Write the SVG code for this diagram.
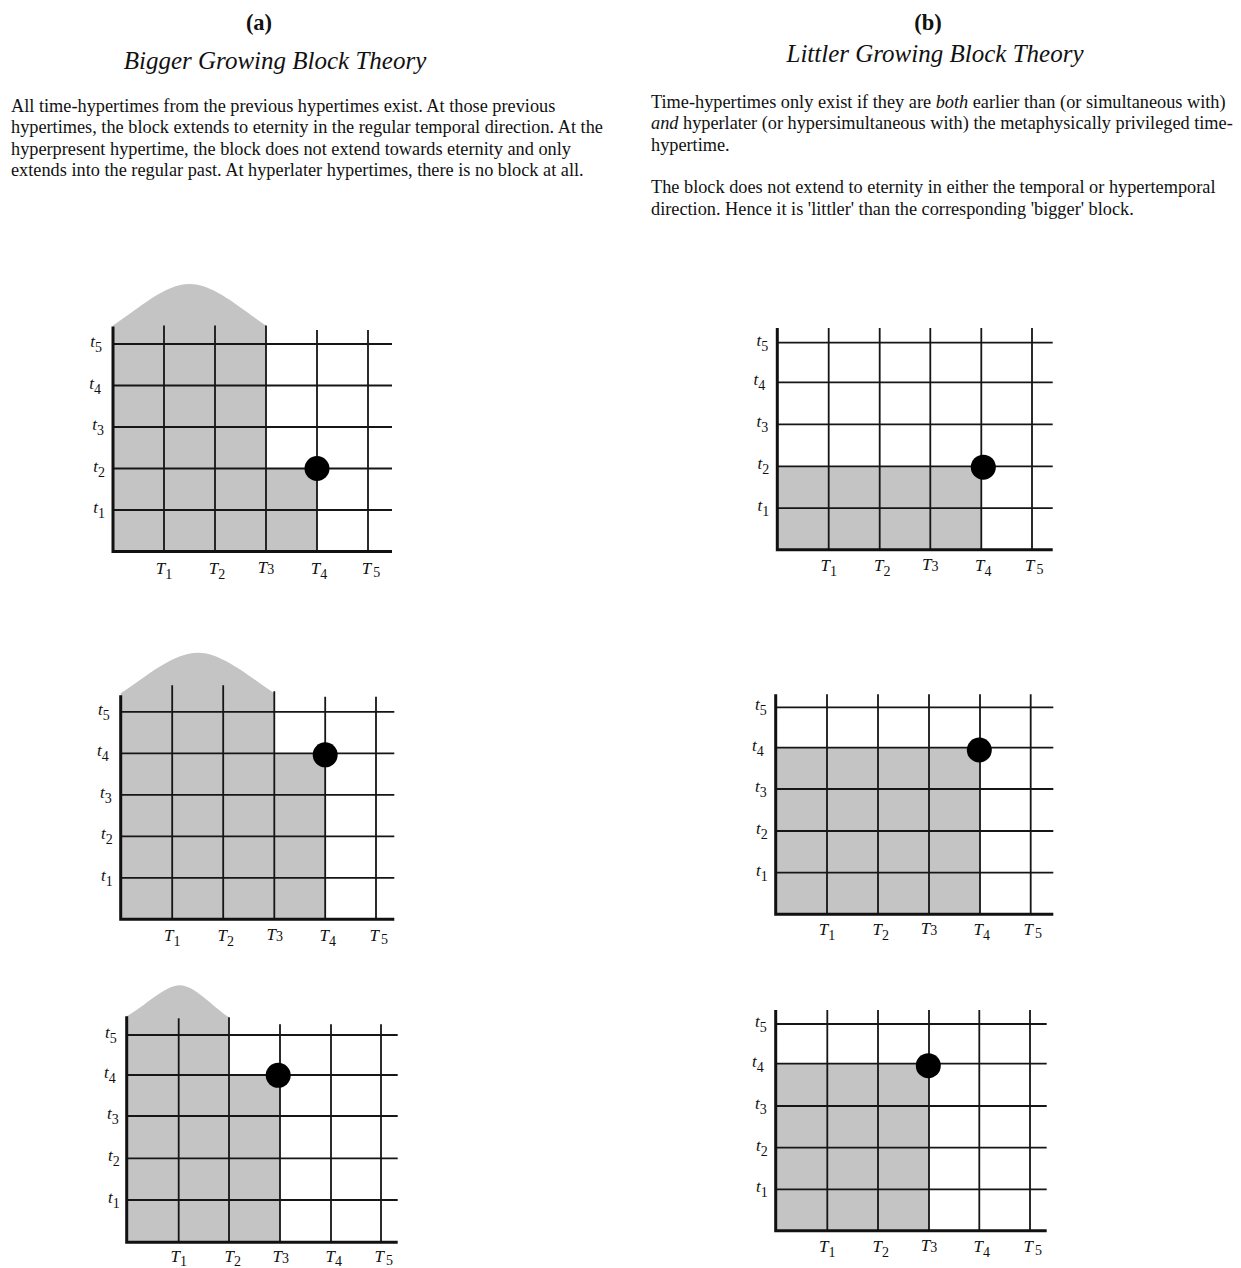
<svg xmlns="http://www.w3.org/2000/svg" width="1241" height="1268" viewBox="0 0 1241 1268">
<style>
  .serif{font-family:"Liberation Serif","Times New Roman",serif;fill:#111}
  .hd{font-size:22.5px;font-weight:bold;text-anchor:middle}
  .ttl{font-size:25px;font-style:italic;text-anchor:middle}
  .body{font-size:18.3px}
  .block{fill:#c4c4c4;stroke:none}
  .grid{fill:none;stroke:#161616;stroke-width:1.8}
  .axis{fill:none;stroke:#111;stroke-width:3}
  .dot{fill:#000}
  .lab{font-family:"Liberation Serif","Times New Roman",serif;font-style:italic;font-size:17px;fill:#111}
  .yl{text-anchor:end}
  .xl{text-anchor:middle}
  .sub{font-size:14px;font-style:normal}
</style>
<rect width="1241" height="1268" fill="#fff"/>

<g id="header-a" class="serif">
  <text class="hd" x="259" y="30">(a)</text>
  <text class="ttl" x="275" y="69">Bigger Growing Block Theory</text>
  <text class="body" x="11" y="111.5">All time-hypertimes from the previous hypertimes exist. At those previous</text>
  <text class="body" x="11" y="133">hypertimes, the block extends to eternity in the regular temporal direction. At the</text>
  <text class="body" x="11" y="154.5">hyperpresent hypertime, the block does not extend towards eternity and only</text>
  <text class="body" x="11" y="176">extends into the regular past. At hyperlater hypertimes, there is no block at all.</text>
</g>

<g id="header-b" class="serif">
  <text class="hd" x="928" y="30">(b)</text>
  <text class="ttl" x="935" y="62">Littler Growing Block Theory</text>
  <text class="body" x="651" y="107.5">Time-hypertimes only exist if they are <tspan font-style="italic">both</tspan> earlier than (or simultaneous with)</text>
  <text class="body" x="651" y="129"><tspan font-style="italic">and</tspan> hyperlater (or hypersimultaneous with) the metaphysically privileged time-</text>
  <text class="body" x="651" y="150.5">hypertime.</text>
  <text class="body" x="651" y="193">The block does not extend to eternity in either the temporal or hypertemporal</text>
  <text class="body" x="651" y="214.5">direction. Hence it is 'littler' than the corresponding 'bigger' block.</text>
</g>

<!-- (a) grid 1 -->
<g id="grid-a1" transform="translate(113,551.5)">
  <path class="block" d="M0,0 V-226 C27,-244 52,-267.5 76.5,-267.5 C101,-267.5 126,-244 153,-226 V-83 H204 V0 Z"/>
  <path class="grid" d="M0,-41.5 H279 M0,-83 H279 M0,-124.5 H279 M0,-166 H279 M0,-207.5 H279 M51,0 V-226 M102,0 V-226 M153,0 V-226 M204,0 V-221.5 M255,0 V-221.5"/>
  <path class="axis" d="M0,-225 V0 H279"/>
  <circle class="dot" cx="204" cy="-83" r="12.5"/>
  <g class="lab yl">
    <text x="-8" y="-38.5">t<tspan class="sub" dy="5">1</tspan></text>
    <text x="-8" y="-80">t<tspan class="sub" dy="5">2</tspan></text>
    <text x="-9" y="-121.5">t<tspan class="sub" dy="5">3</tspan></text>
    <text x="-12" y="-163">t<tspan class="sub" dy="5">4</tspan></text>
    <text x="-11" y="-204.5">t<tspan class="sub" dy="5">5</tspan></text>
  </g>
  <g class="lab xl">
    <text x="51" y="22">T<tspan class="sub" dy="5">1</tspan></text>
    <text x="104" y="22">T<tspan class="sub" dy="5">2</tspan></text>
    <text x="153" y="21">T<tspan class="sub" dy="1">3</tspan></text>
    <text x="206" y="22">T<tspan class="sub" dy="5">4</tspan></text>
    <text x="258" y="22">T<tspan class="sub" dx="2" dy="3">5</tspan></text>
  </g>
</g>

<!-- (a) grid 2 -->
<g id="grid-a2" transform="translate(120.7,919.3)">
  <path class="block" d="M0,0 V-226 C27,-244 53,-266.6 77.3,-266.6 C101,-266.6 127,-244 153.6,-226 V-166 H204.5 V0 Z"/>
  <path class="grid" d="M0,-41.5 H273.6 M0,-83 H273.6 M0,-124.5 H273.6 M0,-166 H273.6 M0,-207.5 H273.6 M51.5,0 V-234 M102.5,0 V-234 M153.6,0 V-228 M204.5,0 V-222.6 M255.3,0 V-222.6"/>
  <path class="axis" d="M0,-224 V0 H273.6"/>
  <circle class="dot" cx="204.5" cy="-164.5" r="12.5"/>
  <g class="lab yl">
    <text x="-8" y="-38.5">t<tspan class="sub" dy="5">1</tspan></text>
    <text x="-8" y="-80">t<tspan class="sub" dy="5">2</tspan></text>
    <text x="-9" y="-121.5">t<tspan class="sub" dy="5">3</tspan></text>
    <text x="-12" y="-163">t<tspan class="sub" dy="5">4</tspan></text>
    <text x="-11" y="-204.5">t<tspan class="sub" dy="5">5</tspan></text>
  </g>
  <g class="lab xl">
    <text x="51.5" y="22">T<tspan class="sub" dy="5">1</tspan></text>
    <text x="105" y="22">T<tspan class="sub" dy="5">2</tspan></text>
    <text x="154" y="21">T<tspan class="sub" dy="1">3</tspan></text>
    <text x="207" y="22">T<tspan class="sub" dy="5">4</tspan></text>
    <text x="258" y="22">T<tspan class="sub" dx="2" dy="3">5</tspan></text>
  </g>
</g>

<!-- (a) grid 3 -->
<g id="grid-a3" transform="translate(126.7,1242.3)">
  <path class="block" d="M0,0 V-226 C18,-236 38,-257 53,-257 C68,-257 84,-237 102.3,-225 V-167 H153.3 V0 Z"/>
  <path class="grid" d="M0,-42.3 H271 M0,-84 H271 M0,-126.3 H271 M0,-167.3 H271 M0,-207.3 H271 M52,0 V-224 M102.3,0 V-225 M153.3,0 V-218 M204.3,0 V-218 M254.3,0 V-218"/>
  <path class="axis" d="M0,-226 V0 H271"/>
  <circle class="dot" cx="151.5" cy="-167" r="12.5"/>
  <g class="lab yl">
    <text x="-7" y="-39">t<tspan class="sub" dy="5">1</tspan></text>
    <text x="-7" y="-81">t<tspan class="sub" dy="5">2</tspan></text>
    <text x="-8" y="-123">t<tspan class="sub" dy="5">3</tspan></text>
    <text x="-11" y="-164">t<tspan class="sub" dy="5">4</tspan></text>
    <text x="-10" y="-204">t<tspan class="sub" dy="5">5</tspan></text>
  </g>
  <g class="lab xl">
    <text x="52" y="20">T<tspan class="sub" dy="4">1</tspan></text>
    <text x="106" y="20">T<tspan class="sub" dy="4">2</tspan></text>
    <text x="154" y="20">T<tspan class="sub" dy="1">3</tspan></text>
    <text x="207" y="20">T<tspan class="sub" dy="4">4</tspan></text>
    <text x="257" y="20">T<tspan class="sub" dx="2" dy="3">5</tspan></text>
  </g>
</g>

<!-- (b) grid 1 -->
<g id="grid-b1" transform="translate(777.3,549.7)">
  <rect class="block" x="0" y="-83" width="204" height="83"/>
  <path class="grid" d="M0,-41.5 H275.4 M0,-83.4 H275.4 M0,-125.4 H275.4 M0,-167.4 H275.4 M0,-207 H275.4 M51.4,0 V-221.7 M102.4,0 V-221.7 M153,0 V-221.7 M204,0 V-221.7 M254.7,0 V-221.7"/>
  <path class="axis" d="M0,-221.7 V0 H275.4"/>
  <circle class="dot" cx="206" cy="-82.5" r="12.5"/>
  <g class="lab yl">
    <text x="-8" y="-38.5">t<tspan class="sub" dy="5">1</tspan></text>
    <text x="-8" y="-80.5">t<tspan class="sub" dy="5">2</tspan></text>
    <text x="-9" y="-122.5">t<tspan class="sub" dy="5">3</tspan></text>
    <text x="-12" y="-164.5">t<tspan class="sub" dy="5">4</tspan></text>
    <text x="-9" y="-204">t<tspan class="sub" dy="5">5</tspan></text>
  </g>
  <g class="lab xl">
    <text x="51.4" y="21">T<tspan class="sub" dy="5">1</tspan></text>
    <text x="105" y="21">T<tspan class="sub" dy="5">2</tspan></text>
    <text x="153" y="20">T<tspan class="sub" dy="1">3</tspan></text>
    <text x="206" y="21">T<tspan class="sub" dy="5">4</tspan></text>
    <text x="257" y="21">T<tspan class="sub" dx="2" dy="3">5</tspan></text>
  </g>
</g>

<!-- (b) grid 2 -->
<g id="grid-b2" transform="translate(775.7,914.3)">
  <rect class="block" x="0" y="-166.6" width="204.3" height="166.6"/>
  <path class="grid" d="M0,-41.6 H277.6 M0,-83.3 H277.6 M0,-125.3 H277.6 M0,-166.6 H277.6 M0,-207 H277.6 M51.3,0 V-220 M102.3,0 V-220 M153.3,0 V-220 M204.3,0 V-220 M255,0 V-220"/>
  <path class="axis" d="M0,-220 V0 H277.6"/>
  <circle class="dot" cx="203.6" cy="-164.3" r="12.5"/>
  <g class="lab yl">
    <text x="-8" y="-38.5">t<tspan class="sub" dy="5">1</tspan></text>
    <text x="-8" y="-80">t<tspan class="sub" dy="5">2</tspan></text>
    <text x="-9" y="-122">t<tspan class="sub" dy="5">3</tspan></text>
    <text x="-12" y="-163.5">t<tspan class="sub" dy="5">4</tspan></text>
    <text x="-9" y="-204">t<tspan class="sub" dy="5">5</tspan></text>
  </g>
  <g class="lab xl">
    <text x="51.3" y="21">T<tspan class="sub" dy="5">1</tspan></text>
    <text x="105" y="21">T<tspan class="sub" dy="5">2</tspan></text>
    <text x="153.3" y="20">T<tspan class="sub" dy="1">3</tspan></text>
    <text x="206" y="21">T<tspan class="sub" dy="5">4</tspan></text>
    <text x="257" y="21">T<tspan class="sub" dx="2" dy="3">5</tspan></text>
  </g>
</g>

<!-- (b) grid 3 -->
<g id="grid-b3" transform="translate(775.7,1230.7)">
  <rect class="block" x="0" y="-167" width="153.3" height="167"/>
  <path class="grid" d="M0,-41.4 H271 M0,-83 H271 M0,-124.7 H271 M0,-167 H271 M0,-206.7 H271 M51.6,0 V-220.7 M102.3,0 V-220.7 M153.3,0 V-220.7 M203.6,0 V-220.7 M254.3,0 V-220.7"/>
  <path class="axis" d="M0,-220.7 V0 H271"/>
  <circle class="dot" cx="152.6" cy="-165" r="12.5"/>
  <g class="lab yl">
    <text x="-8" y="-38.5">t<tspan class="sub" dy="5">1</tspan></text>
    <text x="-8" y="-80">t<tspan class="sub" dy="5">2</tspan></text>
    <text x="-9" y="-121.5">t<tspan class="sub" dy="5">3</tspan></text>
    <text x="-12" y="-164">t<tspan class="sub" dy="5">4</tspan></text>
    <text x="-9" y="-204">t<tspan class="sub" dy="5">5</tspan></text>
  </g>
  <g class="lab xl">
    <text x="51.6" y="21">T<tspan class="sub" dy="5">1</tspan></text>
    <text x="105" y="21">T<tspan class="sub" dy="5">2</tspan></text>
    <text x="153.3" y="20">T<tspan class="sub" dy="1">3</tspan></text>
    <text x="206" y="21">T<tspan class="sub" dy="5">4</tspan></text>
    <text x="257" y="21">T<tspan class="sub" dx="2" dy="3">5</tspan></text>
  </g>
</g>

<g id="connectors"></g>
</svg>
